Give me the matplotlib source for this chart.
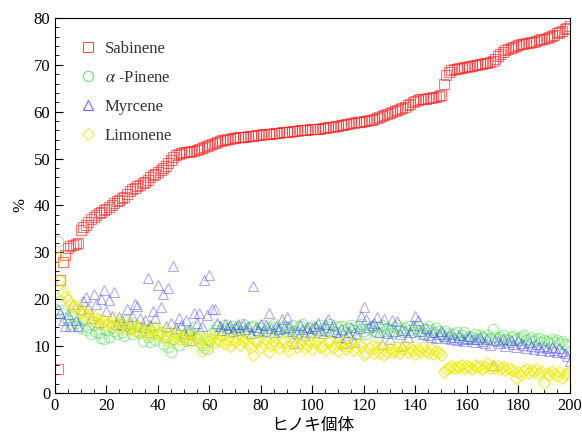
import matplotlib
matplotlib.use("Agg")
import matplotlib.pyplot as plt
from matplotlib.ticker import MultipleLocator
import numpy as np

plt.rcParams["font.family"] = ["Liberation Serif", "Noto Sans CJK JP"]
plt.rcParams["mathtext.fontset"] = "stix"

samples = np.arange(1, 201)

sabinene = [
    5.0, 24.0, 28.0, 29.5, 31.0, 31.4, 31.6, 31.8, 32.0, 34.8,
    35.3, 35.8, 36.4, 37.0, 37.5, 38.0, 38.3, 38.7, 39.0, 39.3,
    39.7, 40.1, 40.5, 40.9, 41.2, 41.5, 41.9, 42.4, 43.0, 43.5,
    43.8, 44.1, 44.4, 44.7, 45.0, 45.5, 46.0, 46.4, 46.8, 47.2,
    47.6, 48.0, 48.5, 49.0, 49.6, 50.4, 50.8, 51.0, 51.2, 51.3,
    51.4, 51.5, 51.6, 51.7, 51.8, 52.0, 52.2, 52.4, 52.6, 52.8,
    53.1, 53.4, 53.6, 53.8, 53.9, 54.0, 54.1, 54.2, 54.3, 54.4,
    54.5, 54.5, 54.6, 54.7, 54.8, 54.8, 54.9, 55.0, 55.0, 55.1,
    55.2, 55.2, 55.3, 55.3, 55.4, 55.5, 55.5, 55.6, 55.6, 55.7,
    55.7, 55.8, 55.8, 55.9, 56.0, 56.0, 56.1, 56.1, 56.2, 56.2,
    56.3, 56.4, 56.4, 56.5, 56.6, 56.7, 56.7, 56.8, 56.9, 57.0,
    57.1, 57.2, 57.3, 57.4, 57.5, 57.6, 57.7, 57.8, 57.9, 58.0,
    58.1, 58.2, 58.3, 58.5, 58.7, 58.9, 59.1, 59.3, 59.5, 59.7,
    59.9, 60.1, 60.3, 60.5, 60.8, 61.1, 61.4, 61.7, 62.0, 62.2,
    62.4, 62.6, 62.7, 62.8, 62.9, 63.0, 63.1, 63.2, 63.4, 63.6,
    65.8, 67.8, 68.4, 68.8, 69.0, 69.2, 69.3, 69.4, 69.5, 69.6,
    69.7, 69.8, 69.9, 70.0, 70.1, 70.2, 70.3, 70.4, 70.6, 70.9,
    71.3, 71.8, 72.3, 72.7, 73.1, 73.4, 73.6, 73.8, 74.0, 74.2,
    74.4, 74.5, 74.6, 74.7, 74.8, 74.9, 75.0, 75.2, 75.4, 75.6,
    75.8, 76.0, 76.2, 76.4, 76.7, 77.0, 77.3, 77.6, 77.9, 78.2,
]

pinene = [
    32.5, 19.5, 17.0, 16.0, 15.5, 14.8, 16.5, 15.0, 14.2, 13.8,
    15.5, 13.5, 14.0, 12.5, 14.5, 13.0, 12.8, 11.8, 11.5, 13.5,
    12.0, 14.0, 13.2, 12.6, 14.8, 13.0, 12.2, 15.5, 13.8, 12.5,
    13.2, 14.2, 12.8, 11.0, 13.5, 12.0, 10.8, 14.0, 11.2, 12.5,
    13.0, 10.5, 12.0, 9.8, 8.8, 11.5, 12.8, 10.2, 13.5, 12.0,
    11.0, 13.2, 12.5, 14.0, 11.8, 12.6, 10.2, 9.6, 9.4, 11.0,
    12.8, 13.5, 14.3, 12.6, 13.4, 14.5, 13.8, 13.0, 14.2, 13.6,
    12.8, 14.0, 14.6, 13.2, 12.8, 14.0, 14.3, 13.4, 13.0, 13.8,
    14.5, 13.2, 12.8, 14.0, 14.8, 13.4, 13.1, 13.8, 14.3, 12.9,
    13.6, 14.4, 13.2, 12.9, 14.2, 14.7, 13.3, 12.8, 13.9, 14.3,
    13.6, 13.0, 14.5, 13.8, 13.1, 14.0, 14.6, 13.2, 12.9, 14.1,
    14.3, 13.4, 12.9, 13.9, 14.4, 13.5, 12.8, 14.2, 14.7, 13.3,
    12.6, 13.6, 14.3, 13.2, 12.9, 14.0, 14.5, 13.1, 13.8, 13.2,
    12.7, 14.1, 14.4, 13.4, 12.9, 13.9, 14.3, 13.5, 13.0, 13.8,
    14.2, 13.3, 12.8, 13.6, 14.2, 13.4, 13.0, 13.8, 13.2, 12.6,
    12.2, 13.2, 12.8, 12.0, 12.6, 13.0, 11.8, 12.4, 12.9, 11.6,
    12.2, 11.9, 12.6, 11.5, 12.3, 12.0, 11.7, 12.4, 11.8, 13.6,
    12.0, 11.4, 11.9, 12.3, 11.6, 11.2, 12.0, 12.1, 11.5, 11.8,
    11.9, 12.4, 11.2, 11.6, 11.9, 11.0, 11.5, 11.8, 10.9, 11.3,
    11.1, 10.7, 11.4, 10.9, 11.2, 10.6, 11.0, 10.4, 10.0, 9.0,
]

myrcene = [
    18.0, 17.0, 15.5, 14.3, 16.8, 14.2, 19.0, 15.5, 14.3, 17.8,
    19.5, 20.5, 18.2, 16.0, 21.0, 19.0, 15.2, 20.0, 22.0, 17.5,
    19.8, 16.5, 21.5, 14.8, 16.2, 15.5, 14.5, 18.0, 15.0, 16.5,
    19.0, 18.5, 16.0, 14.0, 15.5, 24.5, 14.5, 17.5, 16.0, 23.0,
    18.4, 21.0, 14.2, 22.3, 15.0, 27.0, 13.8, 15.9, 14.5, 12.8,
    15.5, 13.5, 11.3, 17.0, 15.0, 17.0, 14.2, 24.0, 16.6, 25.2,
    17.8, 18.0, 15.0, 14.2, 13.5, 14.8, 13.8, 14.5, 13.2, 14.0,
    14.6, 13.4, 14.8, 13.6, 14.2, 12.8, 22.8, 14.0, 13.5, 14.6,
    13.2, 14.4, 17.1, 13.8, 13.0, 14.2, 13.6, 15.7, 13.8, 16.1,
    14.0, 13.2, 10.7, 12.8, 14.5, 13.6, 12.4, 14.0, 13.0, 13.8,
    14.2, 15.0, 13.4, 12.8, 14.6, 15.7, 13.2, 14.5, 13.0, 12.0,
    13.6, 10.7, 11.8, 13.0, 14.0, 10.9, 12.6, 13.8, 16.5, 18.3,
    15.8, 14.0, 14.5, 15.0, 16.1, 13.0, 10.4, 15.8, 12.8, 11.5,
    15.6, 13.3, 15.3, 12.5, 9.9, 13.5, 12.0, 13.0, 14.5, 16.3,
    15.5, 13.2, 12.6, 13.8, 12.4, 12.0, 13.0, 11.8, 12.5, 13.3,
    12.2, 11.8, 12.6, 11.5, 12.0, 11.2, 12.4, 11.6, 11.0, 11.8,
    12.2, 11.4, 10.8, 11.6, 12.0, 11.0, 10.6, 11.5, 10.2, 6.0,
    11.2, 11.0, 10.6, 11.4, 10.0, 10.8, 11.2, 10.4, 9.8, 11.3,
    10.6, 10.2, 9.6, 10.8, 10.0, 9.4, 10.4, 9.8, 9.2, 10.0,
    9.6, 9.0, 9.8, 9.2, 8.8, 9.5, 9.0, 8.6, 7.8, 6.7,
]

limonene = [
    29.0, 24.0, 21.5, 20.5, 19.8, 19.0, 18.5, 17.8, 18.6, 17.0,
    17.5, 16.2, 16.8, 15.8, 16.5, 15.2, 15.8, 14.8, 15.5, 14.5,
    15.2, 14.2, 16.0, 14.6, 13.8, 15.0, 14.2, 13.5, 14.8, 13.6,
    14.2, 13.0, 14.0, 13.4, 12.6, 13.8, 12.2, 13.2, 14.0, 12.5,
    13.0, 12.0, 11.2, 13.3, 12.4, 11.0, 12.8, 11.6, 12.2, 11.4,
    12.6, 11.8, 11.0, 12.2, 11.5, 10.6, 9.0, 11.8, 10.2, 11.4,
    12.0, 10.8, 11.5, 11.0, 12.2, 10.4, 11.2, 10.0, 11.6, 10.8,
    11.4, 10.2, 11.0, 11.8, 10.5, 9.5, 8.1, 10.8, 11.3, 9.8,
    10.6, 11.2, 8.8, 10.2, 11.0, 10.4, 9.6, 10.8, 11.3, 10.0,
    9.0, 10.6, 11.0, 9.8, 10.4, 11.2, 9.6, 10.2, 10.8, 9.4,
    10.6, 11.2, 9.8, 10.0, 9.2, 10.8, 11.0, 9.6, 10.4, 9.0,
    10.2, 10.8, 9.4, 10.0, 10.6, 9.2, 9.8, 10.4, 10.0, 8.1,
    8.6, 9.6, 10.2, 8.5, 9.8, 8.6, 10.0, 8.1, 8.8, 9.6,
    8.8, 9.0, 9.8, 8.6, 9.4, 10.0, 8.8, 9.6, 9.2, 8.4,
    9.4, 8.8, 9.8, 9.0, 8.6, 9.4, 8.2, 9.0, 8.8, 8.1,
    4.5, 5.0, 5.4, 5.8, 5.4, 5.6, 5.6, 5.9, 5.3, 5.8,
    5.6, 5.2, 5.9, 5.5, 5.8, 5.0, 5.6, 6.3, 5.4, 5.7,
    5.3, 5.8, 5.0, 5.5, 4.8, 5.4, 5.0, 4.6, 3.1, 4.4,
    3.8, 4.6, 5.0, 4.2, 4.8, 4.4, 5.0, 4.0, 4.6, 2.1,
    4.2, 3.8, 4.6, 4.0, 3.6, 4.4, 3.2, 4.0, 4.2, 4.8,
]

fig, ax = plt.subplots(figsize=(5.82, 4.48), dpi=100)
fig.subplots_adjust(left=0.0945, right=0.979, top=0.96, bottom=0.123)

ms = 7.5
ax.plot(samples, sabinene, "s", ms=ms, mfc="none", mec="#ff2020", mew=0.8, alpha=0.6, label="Sabinene")
ax.plot(samples, pinene, "o", ms=ms, mfc="none", mec="#44dd44", mew=0.8, alpha=0.5, label=r"$\alpha$ -Pinene")
ax.plot(samples, myrcene, "^", ms=ms, mfc="none", mec="#4444ff", mew=0.8, alpha=0.45, label="Myrcene")
ax.plot(samples, limonene, "D", ms=6, mfc="none", mec="#eeee00", mew=0.8, alpha=0.8, label="Limonene")

ax.set_xlim(0, 200)
ax.set_ylim(0, 80)
ax.xaxis.set_major_locator(MultipleLocator(20))
ax.xaxis.set_minor_locator(MultipleLocator(5))
ax.yaxis.set_major_locator(MultipleLocator(10))
ax.yaxis.set_minor_locator(MultipleLocator(2))
ax.tick_params(which="both", direction="in", top=False, right=False, labelsize=12)
ax.tick_params(which="major", length=6)
ax.tick_params(which="minor", length=3)

ax.set_xlabel("ヒノキ個体", fontsize=12, family=["Noto Sans CJK JP"], labelpad=2)
ax.set_ylabel("%", fontsize=12)

leg = ax.legend(loc="upper left", bbox_to_anchor=(0.035, 0.957), borderaxespad=0,
                frameon=False, fontsize=12, labelspacing=0.78, handlelength=1.0,
                handletextpad=0.5)
for h in leg.legend_handles:
    h.set_alpha(0.8)
for t in leg.get_texts():
    t.set_color("#333333")

fig.savefig("out.png", dpi=100)
